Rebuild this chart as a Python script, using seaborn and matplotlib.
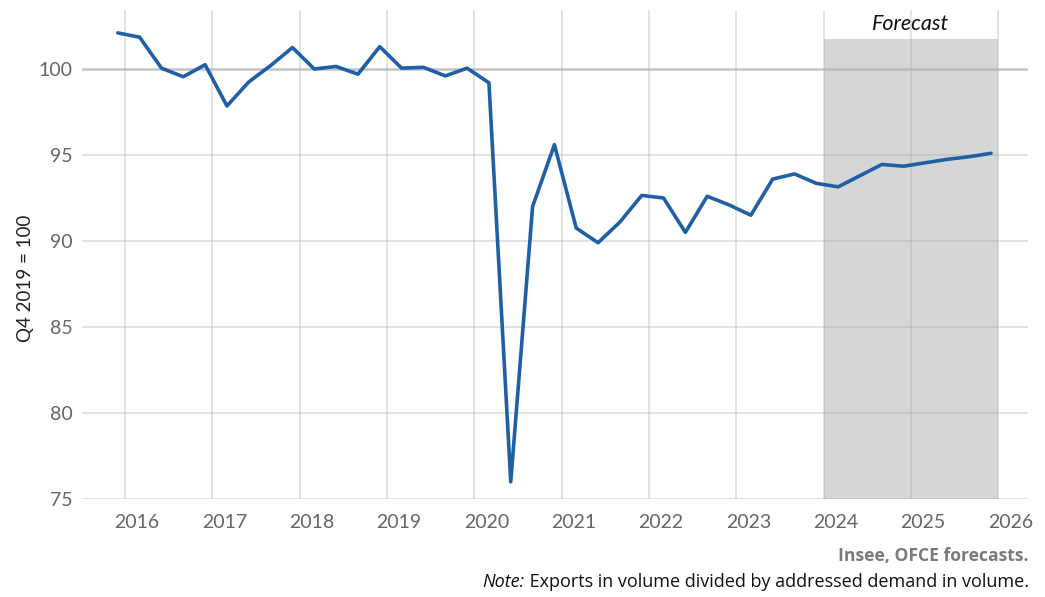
import matplotlib
matplotlib.use("Agg")
import matplotlib.pyplot as plt
import matplotlib.transforms as mtransforms
import seaborn as sns
import pandas as pd
import numpy as np

# quarterly series, 2015Q4 -> 2025Q4 (index, Q4 2019 = 100)
quarters = [(2015, 4)] + [(y, q) for y in range(2016, 2026) for q in range(1, 5)]
values = [102.1, 101.85, 100.05, 99.55, 100.25, 97.85, 99.25, 100.2, 101.25,
          100.0, 100.15, 99.7, 101.3, 100.05, 100.1, 99.6, 100.05, 99.2,
          76.0, 92.0, 95.6, 90.75, 89.9, 91.1, 92.65, 92.5, 90.5, 92.6,
          92.1, 91.5, 93.6, 93.9, 93.35, 93.15, 93.8, 94.45, 94.35, 94.55,
          94.75, 94.9, 95.1]
year_ticks = list(range(2016, 2027))
y_ticks = [75, 80, 85, 90, 95, 100]
forecast_start, forecast_end, forecast_top = 2024, 2026, 101.75

df = pd.DataFrame({
    "date": [y + (3 * q - 1) / 12 for y, q in quarters],
    "value": values,
})

sns.set_theme(style="white")
plt.rcParams["font.family"] = ["Lato", "DejaVu Sans"]

fig = plt.figure(figsize=(10.45, 5.97), dpi=100)
ax = fig.add_axes([0.0785, 0.1642, 0.9052, 0.819])

grid_col = "#dfdfdf"
# forecast band
ax.fill_between([forecast_start, forecast_end], 75, forecast_top,
                color="#d5d7d6", lw=0, zorder=1)

# grid
for t in year_ticks:
    ax.axvline(t, color="#a8a8a8", alpha=0.35, lw=1.3, zorder=2)
for t in y_ticks:
    if t == 100:
        ax.axhline(t, color="#b0b0b0", alpha=0.75, lw=1.8, zorder=2)
    else:
        ax.axhline(t, color="#a8a8a8", alpha=0.35, lw=1.3, zorder=2)

sns.lineplot(data=df, x="date", y="value", ax=ax, color="#1f5fa5",
             lw=2.6, zorder=3)

ax.set_xlim(2015.507, 2026.34)
ax.set_ylim(75, 103.43)
ax.set_xticks(year_ticks)
ax.set_xticklabels([str(t) for t in year_ticks])
ax.set_yticks(y_ticks)
ax.tick_params(axis="x", length=10, width=1.2, color=grid_col,
               labelsize=14, labelcolor="#666666", pad=1)
ax.tick_params(axis="y", length=0, labelsize=14, labelcolor="#666666", pad=7)
offset = mtransforms.ScaledTranslation(0.12, 0, fig.dpi_scale_trans)
for lab in ax.get_xticklabels():
    lab.set_transform(lab.get_transform() + offset)

for s in ax.spines.values():
    s.set_visible(False)

ax.set_xlabel("")
ax.set_ylabel("Q4 2019 = 100", fontsize=13.5, color="#222222")
ax.yaxis.set_label_coords(-0.051, 0.452)

ax.text((forecast_start + forecast_end) / 2, 102.6, "Forecast",
        ha="center", va="center", fontsize=15.5, style="italic", color="#111111")

cap_font = ["Open Sans", "DejaVu Sans"]
fig.text(0.9845, 0.069, "Insee, OFCE forecasts.", ha="right", va="center",
         fontsize=12.6, fontweight="bold", color="#7a7a7a", family=cap_font)
note = fig.text(0.9845, 0.025, " Exports in volume divided by addressed demand in volume.",
                ha="right", va="center", fontsize=13, color="#111111",
                family=cap_font)
fig.canvas.draw()
bb = note.get_window_extent(fig.canvas.get_renderer())
fig.text(bb.x0 / fig.bbox.width, 0.025, "Note:", ha="right", va="center",
         fontsize=13, style="italic", color="#111111", family=cap_font)

fig.savefig("out.png", dpi=100)
